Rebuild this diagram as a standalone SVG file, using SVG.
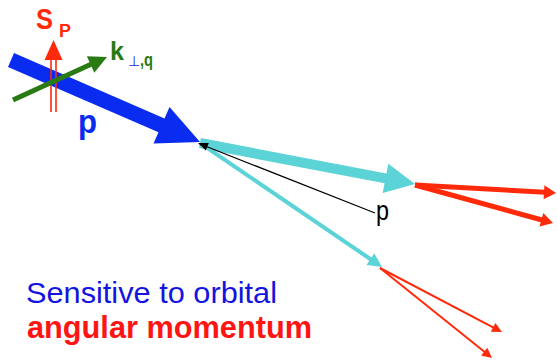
<svg xmlns="http://www.w3.org/2000/svg" width="557" height="361" viewBox="0 0 557 361">
<style>
.t{font-family:"Liberation Sans",Arial,sans-serif}
.b{font-weight:bold}
.red{fill:#ff2a0a}
.cy{fill:#5cd3d6}
</style>
<rect width="557" height="361" fill="#ffffff"/>
<g id="connectors">
  <g id="proton-arrow">
    <polygon fill="#0a2cf0" points="14.0,53.1 164.5,118.4 169.5,107.0 200,142 153.5,143.6 158.5,132.2 8.0,66.9"/>
  </g>
  <g id="spin-arrow">
    <line x1="51" y1="58" x2="51" y2="112" stroke="#ff2a0a" stroke-width="1.6"/>
    <line x1="56" y1="58" x2="56" y2="112" stroke="#ff2a0a" stroke-width="1.6"/>
    <polygon class="red" points="53.5,40 44.5,60 62.5,60"/>
  </g>
  <g id="kperp-arrow">
    <line x1="13" y1="100" x2="91" y2="64.3" stroke="#2a7a14" stroke-width="5"/>
    <polygon fill="#2a7a14" points="107,57 94.3,72.7 86.9,56.3"/>
  </g>
  <g id="quark-thick">
    <polygon class="cy" points="200.9,138.1 386.4,173.5 388.3,163.7 415,184 382.7,193.1 384.6,183.3 199.1,147.9"/>
  </g>
  <g id="quark-thin">
    <line x1="200" y1="143" x2="371" y2="259.5" stroke="#5cd3d6" stroke-width="4"/>
    <polygon class="cy" points="382,267 366.5,264.9 374.3,253.3"/>
  </g>
  <g id="hadrons-upper">
    <line x1="415" y1="185" x2="545" y2="192.3" stroke="#ff2a0a" stroke-width="5"/>
    <polygon class="red" points="556,193 543.6,199.3 544.4,185.3"/>
    <line x1="415" y1="185" x2="542" y2="220" stroke="#ff2a0a" stroke-width="5"/>
    <polygon class="red" points="553,223 539.5,226.5 543.3,213.1"/>
  </g>
  <g id="hadrons-lower">
    <line x1="380" y1="268" x2="494" y2="327.8" stroke="#ff2a0a" stroke-width="2"/>
    <polygon class="red" points="502,332 490.8,331.8 495.4,323.0"/>
    <line x1="380" y1="268" x2="485" y2="352.3" stroke="#ff2a0a" stroke-width="2"/>
    <polygon class="red" points="492,358 481.1,355.6 487.3,347.8"/>
  </g>
  <g id="p-arrow">
    <line x1="375" y1="213" x2="207" y2="146.7" stroke="#000" stroke-width="1.2"/>
    <polygon fill="#000" points="198,143 208.8,143.0 205.8,150.4"/>
  </g>
</g>
<g id="label-sp">
  <text class="t b red" x="36" y="29" font-size="29" textLength="17" lengthAdjust="spacingAndGlyphs">S</text>
  <text class="t b red" x="59" y="37" font-size="18" textLength="12" lengthAdjust="spacingAndGlyphs">P</text>
</g>
<g id="label-k">
  <text class="t b" x="110" y="60" font-size="25" fill="#2a7a14" textLength="14" lengthAdjust="spacingAndGlyphs">k</text>
  <text class="t" x="128" y="66" font-size="14" fill="#1a2ad8">⊥</text>
  <text class="t b" x="140" y="66" font-size="18" fill="#2a7a14" textLength="13" lengthAdjust="spacingAndGlyphs">,q</text>
</g>
<g id="label-p-blue">
  <text class="t b" x="78" y="133" font-size="34" fill="#0a2cf0" textLength="19" lengthAdjust="spacingAndGlyphs">p</text>
</g>
<g id="label-p-black">
  <text class="t" x="376" y="220" font-size="27" fill="#000" textLength="13" lengthAdjust="spacingAndGlyphs">p</text>
</g>
<g id="caption">
  <text class="t" x="26" y="303" font-size="30" fill="#1414e0" textLength="251" lengthAdjust="spacingAndGlyphs">Sensitive to orbital</text>
  <text class="t b" x="27" y="338" font-size="31" fill="#ff1414" textLength="285" lengthAdjust="spacingAndGlyphs">angular momentum</text>
</g>
</svg>
